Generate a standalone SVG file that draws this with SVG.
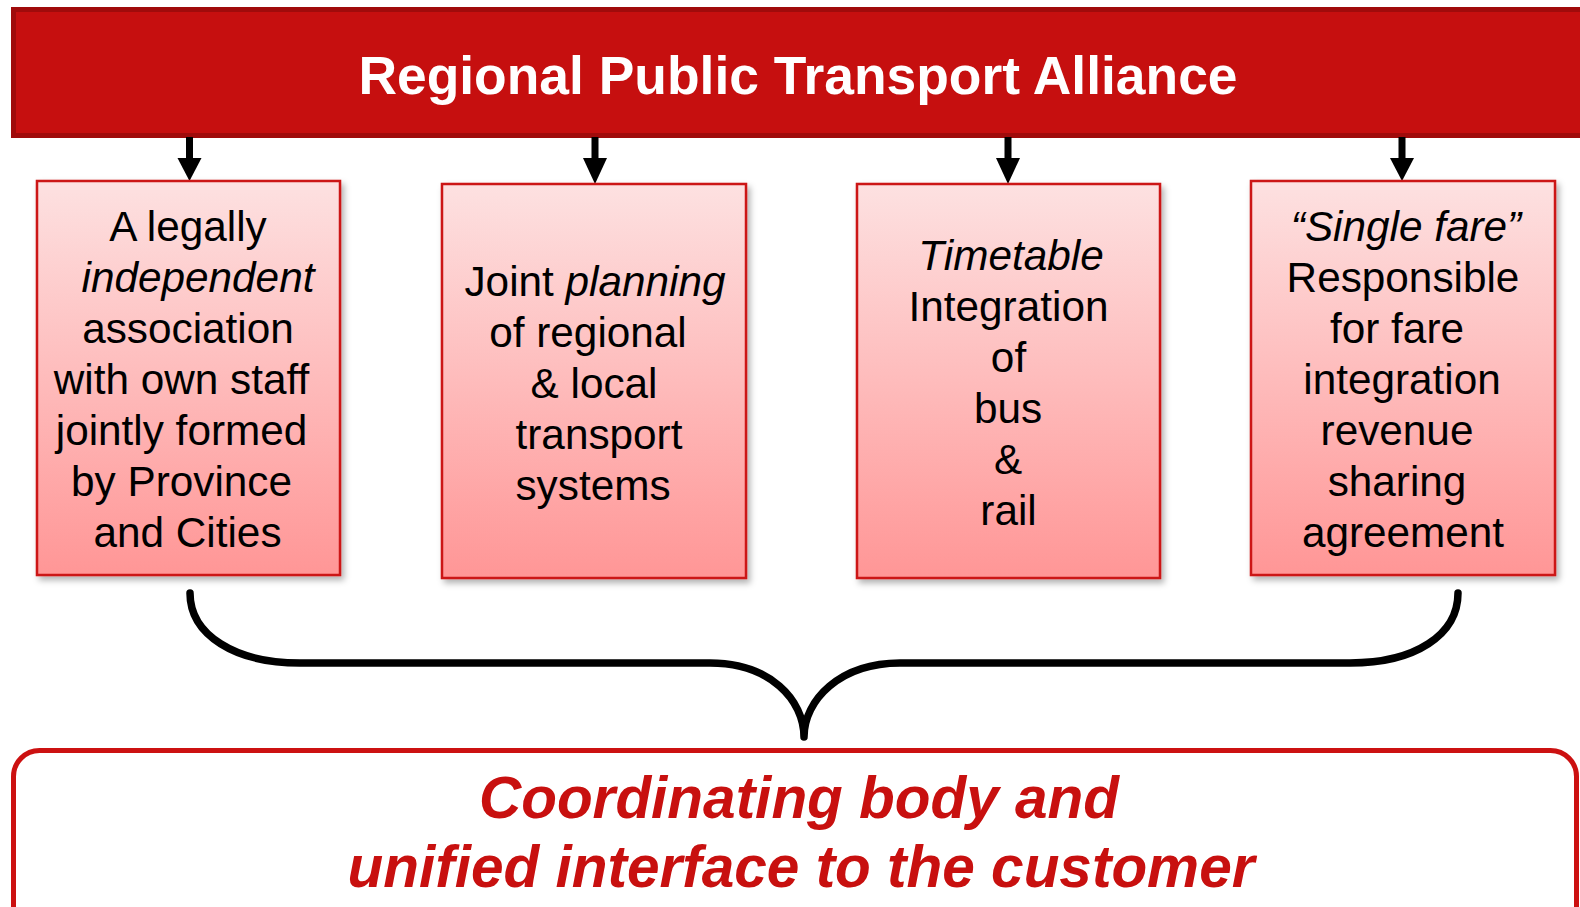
<svg xmlns="http://www.w3.org/2000/svg" width="1580" height="907" viewBox="0 0 1580 907">
<style>
.box{stroke:#cc1414;stroke-width:2.5;fill:url(#g);filter:url(#sh)}
.bt{font-family:"Liberation Sans",Arial,sans-serif;font-size:42.3px;fill:#000;text-anchor:middle}
.it{font-style:italic}
.arrow{fill:#000}
</style>
<defs>
<linearGradient id="g" x1="0" y1="0" x2="0" y2="1">
<stop offset="0" stop-color="#fde1e1"/>
<stop offset="1" stop-color="#ff9696"/>
</linearGradient>
<filter id="sh" x="-10%" y="-10%" width="130%" height="130%">
<feDropShadow dx="3" dy="4" stdDeviation="3" flood-color="#000" flood-opacity="0.3"/>
</filter>
</defs>
<rect width="1580" height="907" fill="#fff"/>
<g id="title">
<rect x="13.5" y="9.5" width="1580" height="126" fill="#c60f0f" stroke="#a00b0b" stroke-width="5"/>
<text x="798" y="94" font-family="'Liberation Sans',Arial,sans-serif" font-size="53.4" font-weight="bold" fill="#fff" text-anchor="middle">Regional Public Transport Alliance</text>
</g>
<g id="connectors">
<g class="arrow">
<rect x="186" y="137" width="7" height="23"/><polygon points="177.5,158 201.5,158 189.5,181"/>
<rect x="591.5" y="137" width="7" height="23"/><polygon points="583,158 607,158 595,184"/>
<rect x="1004.5" y="137" width="7" height="23"/><polygon points="996,158 1020,158 1008,184"/>
<rect x="1398.5" y="137" width="7" height="23"/><polygon points="1390,158 1414,158 1402,181"/>
</g>
<path d="M190,593 C190,635 235,663 300,663 L710,663 C770,663 804,700 804,737 C804,700 840,663 900,663 L1350,663 C1415,663 1458,635 1458,593" fill="none" stroke="#000" stroke-width="7.5" stroke-linecap="round" stroke-linejoin="round"/>
</g>
<g id="box1">
<rect class="box" x="37" y="181" width="303" height="394"/>
<text class="bt"><tspan x="188" y="241">A legally</tspan><tspan x="198" y="292" class="it">independent</tspan><tspan x="188" y="343">association</tspan><tspan x="181.5" y="394">with own staff</tspan><tspan x="181.5" y="445">jointly formed</tspan><tspan x="181.5" y="496">by Province</tspan><tspan x="187.5" y="547">and Cities</tspan></text>
</g>
<g id="box2">
<rect class="box" x="442" y="184" width="304" height="394"/>
<text class="bt"><tspan x="595" y="296">Joint <tspan class="it">planning</tspan></tspan><tspan x="588" y="347">of regional</tspan><tspan x="594" y="398">&amp; local</tspan><tspan x="599" y="449">transport</tspan><tspan x="593" y="500">systems</tspan></text>
</g>
<g id="box3">
<rect class="box" x="857" y="184" width="303" height="394"/>
<text class="bt"><tspan x="1011" y="270" class="it">Timetable</tspan><tspan x="1008.5" y="321">Integration</tspan><tspan x="1008.5" y="372">of</tspan><tspan x="1008" y="423">bus</tspan><tspan x="1008" y="474">&amp;</tspan><tspan x="1008.5" y="525">rail</tspan></text>
</g>
<g id="box4">
<rect class="box" x="1251" y="181" width="304" height="394"/>
<text class="bt"><tspan x="1406" y="241" class="it">“Single fare”</tspan><tspan x="1403" y="292">Responsible</tspan><tspan x="1397" y="343">for fare</tspan><tspan x="1402" y="394">integration</tspan><tspan x="1397" y="445">revenue</tspan><tspan x="1397" y="496">sharing</tspan><tspan x="1403" y="547">agreement</tspan></text>
</g>
<g id="bottom">
<rect x="13.5" y="750.5" width="1563" height="220" rx="26" ry="26" fill="#fff" stroke="#cc1111" stroke-width="5"/>
<text font-family="'Liberation Sans',Arial,sans-serif" font-size="58.5" font-weight="bold" font-style="italic" fill="#c8100f" text-anchor="middle"><tspan x="799" y="818">Coordinating body and</tspan><tspan x="801" y="887">unified interface to the customer</tspan></text>
</g>
</svg>
